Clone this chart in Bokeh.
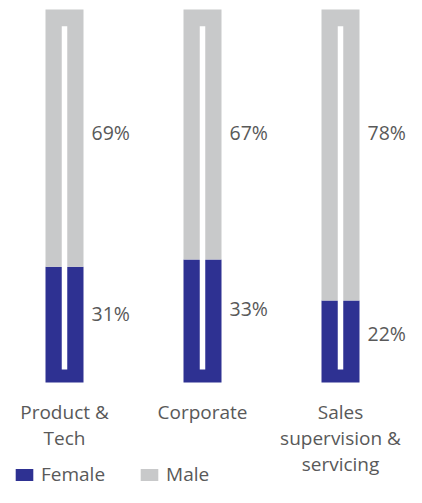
from bokeh.plotting import figure
from bokeh.models import ColumnDataSource, Range1d, Legend, LegendItem
from bokeh.core.properties import value
from bokeh.embed import file_html
from bokeh.resources import INLINE

# ---- data ----
categories = ["Product &\nTech", "Corporate", "Sales\nsupervision &\nservicing"]
female = [31, 33, 22]
male = [69, 67, 78]
series_names = ["Female", "Male"]

# ---- style ----
FEMALE_COLOR = "#2e3192"
MALE_COLOR = "#c8c9ca"
TEXT_COLOR = "#595959"
FONT = "Open Sans"

xs = list(range(len(categories)))
src = ColumnDataSource(dict(
    x=xs,
    female=female,
    male=male,
    total=[f + m for f, m in zip(female, male)],
    cat=categories,
    female_lbl=[f"{v}%" for v in female],
    male_lbl=[f"{v}%" for v in male],
    female_y=[v * 0.6 for v in female],
    male_y=[67 for _ in male],
))

STEP = 138.0  # px between bar centres
p = figure(width=406, height=487, output_backend="svg", toolbar_location=None,
           x_range=Range1d(-64 / STEP, -64 / STEP + 406 / STEP),
           y_range=Range1d(-105 / 3.73, -105 / 3.73 + 487 / 3.73),
           min_border=0, outline_line_color=None)
p.xaxis.visible = False
p.yaxis.visible = False
p.grid.visible = False

bar_w = 38 / STEP
rf = p.vbar(x="x", bottom=0, top="female", width=bar_w, source=src,
            fill_color=FEMALE_COLOR, line_color=None)
rm = p.vbar(x="x", bottom="female", top="total", width=bar_w, source=src,
            fill_color=MALE_COLOR, line_color=None)
# thermometer-style inner white line
p.vbar(x="x", bottom=3.5, top=95.5, width=5.5 / STEP, source=src,
       fill_color="white", line_color=None)

common = dict(source=src, text_font=value(FONT), text_color=TEXT_COLOR,
              text_font_size="19.5px", text_align="left", text_baseline="middle",
              x_offset=27)
p.text(x="x", y="male_y", text="male_lbl", **common)
p.text(x="x", y="female_y", text="female_lbl", **common)

p.text(x="x", y=-4.3, text="cat", source=src, text_font=value(FONT),
       text_color=TEXT_COLOR, text_font_size="19px", text_align="center",
       text_baseline="top", text_line_height=1.0)

legend = Legend(items=[LegendItem(label=series_names[0], renderers=[rf]),
                       LegendItem(label=series_names[1], renderers=[rm])],
                location=(13, 0), orientation="horizontal", padding=0, margin=0,
                spacing=33, glyph_width=22, glyph_height=15, label_standoff=6,
                label_text_font=FONT, label_text_font_size="19px",
                label_text_color=TEXT_COLOR, border_line_color=None,
                background_fill_alpha=0)
p.add_layout(legend)

open("out.html", "w").write(file_html(p, INLINE))
